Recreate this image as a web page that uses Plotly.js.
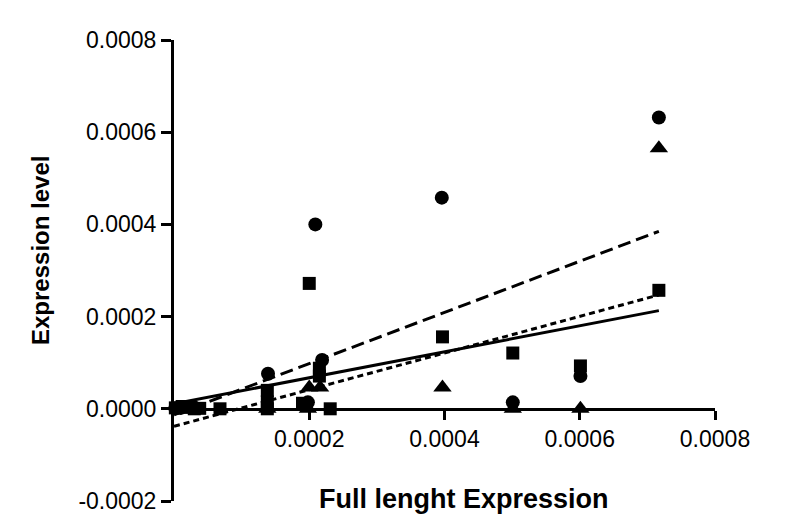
<!DOCTYPE html>
<html>
<head>
<meta charset="utf-8">
<script src="https://cdn.plot.ly/plotly-3.0.1.min.js"></script>
<style>
  html, body { margin: 0; padding: 0; background: #ffffff; }
  #chart { width: 799px; height: 519px; }
</style>
</head>
<body>
<div id="chart"></div>
<script>
// ---- Data ----
const circleX   = [0.000717, 0.000396, 0.000209, 0.000219, 0.000139, 0.000601, 0.000501, 0.000198, 0.000002, 0.000010, 0.000030];
const circleY   = [0.000632, 0.000458, 0.000400, 0.000106, 0.000076, 0.000071, 0.000014, 0.000014, 0.000001, 0.000002, 0.000003];

const squareX   = [0.000717, 0.000200, 0.000397, 0.000501, 0.000601, 0.000215, 0.000215, 0.000138, 0.000138, 0.000138, 0.000190, 0.000231, 0.000068, 0.000002, 0.000012, 0.000020, 0.000030, 0.000038];
const squareY   = [0.000257, 0.000272, 0.000156, 0.000121, 0.000093, 0.000088, 0.000071, 0.000040, 0.000015, 0.000000, 0.000012, 0.000000, 0.000000, 0.000002, 0.000005, 0.000003, 0.000000, 0.000001];

const triangleX = [0.000717, 0.000397, 0.000200, 0.000216, 0.000501, 0.000601, 0.000138, 0.000198, 0.000010, 0.000025];
const triangleY = [0.000565, 0.000046, 0.000046, 0.000046, 0.000000, 0.000000, 0.000000, 0.000000, 0.000000, 0.000000];

// regression line end points
const fitCircleX   = [0, 0.000717];
const fitCircleY   = [-0.000013, 0.000385];
const fitSquareX   = [0, 0.000717];
const fitSquareY   = [-0.000038, 0.000247];
const fitTriangleX = [0, 0.000717];
const fitTriangleY = [0.000011, 0.000213];

const xTickVals = [0.0002, 0.0004, 0.0006, 0.0008];
const xTickText = ["0.0002", "0.0004", "0.0006", "0.0008"];
const yTickVals = [-0.0002, 0.0, 0.0002, 0.0004, 0.0006, 0.0008];
const yTickText = ["-0.0002", "0.0000", "0.0002", "0.0004", "0.0006", "0.0008"];

const xTitle = "Full lenght Expression";
const yTitle = "Expression level";

// ---- Traces ----
const black = "#000000";
const traces = [
  { x: fitCircleX, y: fitCircleY, mode: "lines", line: { color: black, width: 3, dash: "13px,6px" }, hoverinfo: "skip", cliponaxis: false },
  { x: fitSquareX, y: fitSquareY, mode: "lines", line: { color: black, width: 3, dash: "6px,4px" }, hoverinfo: "skip", cliponaxis: false },
  { x: fitTriangleX, y: fitTriangleY, mode: "lines", line: { color: black, width: 3 }, hoverinfo: "skip", cliponaxis: false },
  { x: circleX, y: circleY, mode: "markers", marker: { symbol: "circle", size: 14, color: black }, cliponaxis: false },
  { x: squareX, y: squareY, mode: "markers", marker: { symbol: "square", size: 13, color: black }, cliponaxis: false },
  { x: triangleX, y: triangleY, mode: "markers", marker: { symbol: "triangle-up", size: 16, color: black }, cliponaxis: false }
];

const tickFont = { family: "Liberation Sans, Arial, sans-serif", size: 23, color: black };

const layout = {
  width: 799,
  height: 519,
  paper_bgcolor: "#ffffff",
  plot_bgcolor: "#ffffff",
  showlegend: false,
  margin: { l: 174, r: 84, t: 40, b: 18 },
  xaxis: {
    range: [0, 0.0008],
    anchor: "free",
    position: 0.2,
    showline: true,
    linecolor: black,
    linewidth: 3,
    ticks: "outside",
    ticklen: 9,
    tickwidth: 3,
    tickcolor: black,
    tickvals: xTickVals,
    ticktext: xTickText,
    tickfont: tickFont,
    showgrid: false,
    zeroline: false
  },
  yaxis: {
    range: [-0.0002, 0.0008],
    showline: true,
    linecolor: black,
    linewidth: 3,
    ticks: "outside",
    ticklen: 10,
    tickwidth: 3,
    tickcolor: black,
    tickvals: yTickVals,
    ticktext: yTickText,
    tickfont: tickFont,
    showgrid: false,
    zeroline: false
  },
  annotations: [
    {
      text: "<b>" + xTitle + "</b>",
      xref: "paper", yref: "paper",
      x: (464 - 174) / (799 - 174 - 84), y: (519 - 18 - 499) / (519 - 40 - 18),
      xanchor: "center", yanchor: "middle",
      showarrow: false,
      font: { family: "Liberation Sans, Arial, sans-serif", size: 27, color: black }
    },
    {
      text: "<b>" + yTitle + "</b>",
      xref: "paper", yref: "paper",
      x: (40 - 174) / (799 - 174 - 84), y: (519 - 18 - 251) / (519 - 40 - 18),
      xanchor: "center", yanchor: "middle",
      textangle: -90,
      showarrow: false,
      font: { family: "Liberation Sans, Arial, sans-serif", size: 24, color: black }
    }
  ]
};

Plotly.newPlot("chart", traces, layout, { displayModeBar: false, staticPlot: true });
</script>
</body>
</html>
